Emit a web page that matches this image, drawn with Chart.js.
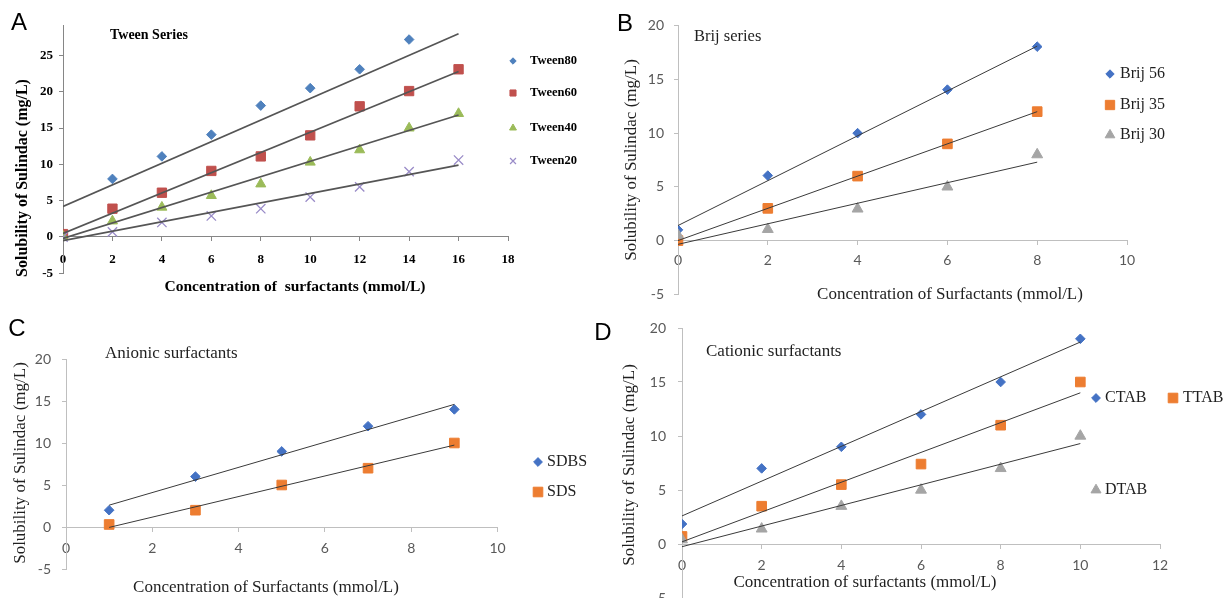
<!DOCTYPE html>
<html><head><meta charset="utf-8">
<script src="https://cdn.jsdelivr.net/npm/chart.js@4.4.1/dist/chart.umd.min.js"></script>
<style>
html,body{margin:0;padding:0;background:#fff;overflow:hidden;width:1228px;height:598px}
canvas{position:absolute}
</style></head>
<body>
<canvas id="cA" width="600" height="305" style="left:0;top:0;width:600px;height:305px"></canvas>
<canvas id="cB" width="628" height="305" style="left:600px;top:0;width:628px;height:305px"></canvas>
<canvas id="cC" width="600" height="293" style="left:0;top:305px;width:600px;height:293px"></canvas>
<canvas id="cD" width="648" height="310" style="left:580px;top:305px;width:648px;height:310px"></canvas>
<script>
// ---------- DATA ----------
// Panel A: Tween series
const tweenConc = [0, 2, 4, 6, 8, 10, 12, 14, 16];
const tween80 = [null, 8, 11.1, 14.1, 18.1, 20.5, 23.1, 27.2, null];
const tween60 = [0.4, 3.9, 6.1, 9.1, 11.1, 14, 18, 20.1, 23.1];
const tween40 = [0.1, 2.2, 4.1, 5.7, 7.3, 10.3, 12, 15, 17];
const tween20 = [0, 0.7, 2, 2.9, 3.9, 5.5, 6.9, 9, 10.6];
const tweenFitX = [0, 16];
const tween80Fit = [4.2, 28];
const tween60Fit = [0.5, 22.8];
const tween40Fit = [-0.2, 16.8];
const tween20Fit = [-0.5, 9.9];
const tweenXTicks = [0, 2, 4, 6, 8, 10, 12, 14, 16, 18];
const tweenYTicks = [-5, 0, 5, 10, 15, 20, 25];

// Panel B: Brij series
const brijConc = [0, 2, 4, 6, 8];
const brij56 = [1.0, 6.05, 10, 14.05, 18.05];
const brij35 = [0, 3, 6, 9, 12];
const brij30 = [0.5, 1.05, 2.95, 5, 8];
const brijFitX = [0, 8];
const brij56Fit = [1.4, 18.1];
const brij35Fit = [0, 12];
const brij30Fit = [-0.35, 7.3];
const brijXTicks = [0, 2, 4, 6, 8, 10];
const brijYTicks = [-5, 0, 5, 10, 15, 20];

// Panel C: Anionic surfactants
const anionicConc = [1, 3, 5, 7, 9];
const sdbs = [2, 6, 9, 12, 14];
const sds = [0.3, 2, 5, 7, 10];
const anionicFitX = [1, 9];
const sdbsFit = [2.6, 14.6];
const sdsFit = [-0.05, 9.75];
const anionicXTicks = [0, 2, 4, 6, 8, 10];
const anionicYTicks = [-5, 0, 5, 10, 15, 20];

// Panel D: Cationic surfactants
const cationicConc = [0, 2, 4, 6, 8, 10];
const ctab = [1.85, 7, 9, 12, 15, 19];
const ttab = [0.7, 3.5, 5.5, 7.4, 11, 15];
const dtab = [0.4, 1.4, 3.5, 5, 7, 10];
const cationicFitX = [0, 10];
const ctabFit = [2.6, 18.7];
const ttabFit = [0.2, 14.0];
const dtabFit = [-0.25, 9.3];
const cationicXTicks = [0, 2, 4, 6, 8, 10, 12];
const cationicYTicks = [-5, 0, 5, 10, 15, 20];

// ---------- HELPERS ----------
function pts(xs, ys) {
  return xs.map((x, i) => ({x: x, y: ys[i]})).filter(p => p.y !== null && p.y !== undefined);
}
function series(label, xs, ys, st) {
  return {label, data: pts(xs, ys), showLine: false, pointStyle: st.style, pointRadius: st.r,
    pointHoverRadius: st.r, backgroundColor: st.color, borderColor: st.border || st.color,
    borderWidth: st.bw || 1, order: st.order};
}
function fitLine(label, xs, ys, color, width) {
  return {label, data: pts(xs, ys), showLine: true, pointRadius: 0, pointHoverRadius: 0,
    borderColor: color, borderWidth: width, fill: false, order: 0};
}
function noPad(s) { s.paddingTop = 0; s.paddingBottom = 0; s.paddingLeft = 0; s.paddingRight = 0; }
function xScale(min, max, tickArr, font, color, axisColor, pad) {
  return {type: 'linear', position: {y: 0}, min, max, bounds: 'data',
    afterBuildTicks: s => { s.ticks = tickArr.map(v => ({value: v})); },
    afterFit: s => { noPad(s); },
    grid: {display: true, drawOnChartArea: false, drawTicks: true, tickLength: 4, color: axisColor, lineWidth: 1},
    border: {display: true, color: axisColor, width: 1},
    ticks: {font, color, padding: pad, maxRotation: 0, autoSkip: false}};
}
function yScale(min, max, tickArr, font, color, axisColor, pad, boxWidth) {
  return {type: 'linear', position: 'left', min, max, bounds: 'data',
    afterBuildTicks: s => { s.ticks = tickArr.map(v => ({value: v})); },
    afterFit: s => { s.width = boxWidth; noPad(s); },
    grid: {display: true, drawOnChartArea: false, drawTicks: true, tickLength: 4, color: axisColor, lineWidth: 1},
    border: {display: true, color: axisColor, width: 1},
    ticks: {font, color, padding: pad, autoSkip: false}};
}
function overlay(origin, texts, legend) {
  return {
    id: 'overlay',
    afterDraw(chart) {
      const ctx = chart.ctx, ox = origin[0], oy = origin[1];
      texts.forEach(t => {
        ctx.save();
        ctx.font = t.font; ctx.fillStyle = t.color || '#000';
        ctx.textAlign = t.align || 'left'; ctx.textBaseline = 'middle';
        ctx.translate(t.x - ox, t.y - oy);
        if (t.rot) ctx.rotate(t.rot);
        ctx.fillText(t.text, 0, 0);
        ctx.restore();
      });
      legend.forEach(l => {
        ctx.save();
        ctx.fillStyle = l.color; ctx.strokeStyle = l.border || l.color; ctx.lineWidth = l.bw || 1;
        Chart.helpers.drawPoint(ctx, {pointStyle: l.style, radius: l.r, rotation: 0, borderWidth: l.bw || 1}, l.x - ox, l.y - oy);
        ctx.font = l.font; ctx.fillStyle = l.tcolor || '#000';
        ctx.textAlign = 'left'; ctx.textBaseline = 'middle';
        ctx.fillText(l.text, l.tx - ox, l.y - oy);
        ctx.restore();
      });
    }
  };
}
function makeChart(id, datasets, scales, padding, plugin) {
  return new Chart(document.getElementById(id), {
    type: 'scatter',
    data: {datasets},
    options: {
      responsive: false, animation: false, devicePixelRatio: 1,
      layout: {padding},
      plugins: {legend: {display: false}, tooltip: {enabled: false}},
      scales
    },
    plugins: [plugin]
  });
}

// ---------- PANEL A ----------
const serifB = "'Liberation Serif', 'Times New Roman', serif";
const fontA = {family: serifB, size: 13, weight: 'bold'};
const axisA = '#868686';
const cBlue7 = '#4F81BD', cRed7 = '#C0504D', cGreen7 = '#9BBB59', cPurple7 = '#9a8cc8';
const trendA = '#555555';
makeChart('cA', [
  fitLine('Tween80 fit', tweenFitX, tween80Fit, trendA, 1.7),
  fitLine('Tween60 fit', tweenFitX, tween60Fit, trendA, 1.7),
  fitLine('Tween40 fit', tweenFitX, tween40Fit, trendA, 1.7),
  fitLine('Tween20 fit', tweenFitX, tween20Fit, trendA, 1.7),
  series('Tween80', tweenConc, tween80, {style: 'rectRot', r: 4.8, color: cBlue7, order: 4}),
  series('Tween60', tweenConc, tween60, {style: 'rect', r: 6.6, color: cRed7, order: 3}),
  series('Tween40', tweenConc, tween40, {style: 'triangle', r: 5.8, color: cGreen7, order: 2}),
  series('Tween20', tweenConc, tween20, {style: 'crossRot', r: 6.6, color: cPurple7, bw: 1.3, order: 1})
], {
  x: xScale(0, 18, tweenXTicks, fontA, '#000', axisA, 11),
  y: yScale(-5, 29.2, tweenYTicks, fontA, '#000', axisA, 6, 63)
}, {left: 0, right: 92, top: 25, bottom: 31.7},
overlay([0, 0], [
  {text: 'A', x: 19, y: 23, font: "24px 'Liberation Sans', Arial, sans-serif", align: 'center'},
  {text: 'Tween Series', x: 110, y: 35, font: "bold 14px " + serifB},
  {text: 'Solubility of Sulindac (mg/L)', x: 23, y: 178, rot: -Math.PI / 2, align: 'center', font: "bold 16px " + serifB},
  {text: 'Concentration of  surfactants (mmol/L)', x: 295, y: 287, align: 'center', font: "bold 15.5px " + serifB}
], [
  {style: 'rectRot', r: 3.2, color: cBlue7, x: 513, y: 61, text: 'Tween80', tx: 530, font: "bold 12.5px " + serifB},
  {style: 'rect', r: 4.3, color: cRed7, x: 513, y: 93, text: 'Tween60', tx: 530, font: "bold 12.5px " + serifB},
  {style: 'triangle', r: 4, color: cGreen7, x: 513, y: 128, text: 'Tween40', tx: 530, font: "bold 12.5px " + serifB},
  {style: 'crossRot', r: 4.2, color: cPurple7, bw: 1.2, x: 513, y: 161, text: 'Tween20', tx: 530, font: "bold 12.5px " + serifB}
]));

// ---------- COMMON for B, C, D ----------
const serif = "'Liberation Serif', 'Times New Roman', serif";
const tickFont = {family: "Lato, 'Open Sans', sans-serif", size: 14};
const tickColor = '#595959';
const axisL = '#bfbfbf';
const cBlue = '#4472C4', cOrange = '#ED7D31', cGray = '#A5A5A5';
const trend = '#3a3a3a';
const txtColor = '#1f1f1f';
const letterFont = "24px 'Liberation Sans', Arial, sans-serif";

// ---------- PANEL B ----------
makeChart('cB', [
  fitLine('Brij 56 fit', brijFitX, brij56Fit, trend, 1),
  fitLine('Brij 35 fit', brijFitX, brij35Fit, trend, 1),
  fitLine('Brij 30 fit', brijFitX, brij30Fit, trend, 1),
  series('Brij 56', brijConc, brij56, {style: 'rectRot', r: 4.8, color: cBlue, order: 3}),
  series('Brij 35', brijConc, brij35, {style: 'rect', r: 6.8, color: cOrange, order: 2}),
  series('Brij 30', brijConc, brij30, {style: 'triangle', r: 6.3, color: cGray, order: 1})
], {
  x: xScale(0, 10, brijXTicks, tickFont, tickColor, axisL, 7.6),
  y: yScale(-5, 20, brijYTicks, tickFont, tickColor, axisL, 10, 78)
}, {left: 0, right: 101, top: 25.7, bottom: 10.7},
overlay([600, 0], [
  {text: 'B', x: 625, y: 24, font: letterFont, align: 'center'},
  {text: 'Brij series', x: 694, y: 37, font: "16.5px " + serif, color: txtColor},
  {text: 'Solubility of Sulindac (mg/L)', x: 632, y: 160, rot: -Math.PI / 2, align: 'center', font: "17px " + serif, color: txtColor},
  {text: 'Concentration of Surfactants (mmol/L)', x: 950, y: 295, align: 'center', font: "17px " + serif, color: txtColor}
], [
  {style: 'rectRot', r: 4.2, color: cBlue, x: 1110, y: 74, text: 'Brij 56', tx: 1120, font: "16px " + serif, tcolor: txtColor},
  {style: 'rect', r: 6.6, color: cOrange, x: 1110, y: 105, text: 'Brij 35', tx: 1120, font: "16px " + serif, tcolor: txtColor},
  {style: 'triangle', r: 5.6, color: cGray, x: 1110, y: 135, text: 'Brij 30', tx: 1120, font: "16px " + serif, tcolor: txtColor}
]));

// ---------- PANEL C ----------
makeChart('cC', [
  fitLine('SDBS fit', anionicFitX, sdbsFit, trend, 1),
  fitLine('SDS fit', anionicFitX, sdsFit, trend, 1),
  series('SDBS', anionicConc, sdbs, {style: 'rectRot', r: 4.8, color: cBlue, order: 2}),
  series('SDS', anionicConc, sds, {style: 'rect', r: 6.8, color: cOrange, order: 1})
], {
  x: xScale(0, 10, anionicXTicks, tickFont, tickColor, axisL, 8.6),
  y: yScale(-5, 20, anionicYTicks, tickFont, tickColor, axisL, 11, 66)
}, {left: 0, right: 102.5, top: 54, bottom: 29},
overlay([0, 305], [
  {text: 'C', x: 17, y: 329, font: letterFont, align: 'center'},
  {text: 'Anionic surfactants', x: 105, y: 354, font: "17px " + serif, color: txtColor},
  {text: 'Solubility of Sulindac (mg/L)', x: 21, y: 463, rot: -Math.PI / 2, align: 'center', font: "17px " + serif, color: txtColor},
  {text: 'Concentration of Surfactants (mmol/L)', x: 266, y: 588, align: 'center', font: "17px " + serif, color: txtColor}
], [
  {style: 'rectRot', r: 4.4, color: cBlue, x: 538, y: 462, text: 'SDBS', tx: 547, font: "16px " + serif, tcolor: txtColor},
  {style: 'rect', r: 6.8, color: cOrange, x: 538, y: 492, text: 'SDS', tx: 547, font: "16px " + serif, tcolor: txtColor}
]));

// ---------- PANEL D ----------
makeChart('cD', [
  fitLine('CTAB fit', cationicFitX, ctabFit, trend, 1),
  fitLine('TTAB fit', cationicFitX, ttabFit, trend, 1),
  fitLine('DTAB fit', cationicFitX, dtabFit, trend, 1),
  series('CTAB', cationicConc, ctab, {style: 'rectRot', r: 4.8, color: cBlue, order: 3}),
  series('TTAB', cationicConc, ttab, {style: 'rect', r: 6.8, color: cOrange, order: 2}),
  series('DTAB', cationicConc, dtab, {style: 'triangle', r: 6.3, color: cGray, order: 1})
], {
  x: xScale(0, 12, cationicXTicks, tickFont, tickColor, axisL, 8.6),
  y: yScale(-5, 20, cationicYTicks, tickFont, tickColor, axisL, 12, 102)
}, {left: 0, right: 68, top: 23, bottom: 17},
overlay([580, 305], [
  {text: 'D', x: 603, y: 333, font: letterFont, align: 'center'},
  {text: 'Cationic surfactants', x: 706, y: 352, font: "17px " + serif, color: txtColor},
  {text: 'Solubility of Sulindac (mg/L)', x: 630, y: 465, rot: -Math.PI / 2, align: 'center', font: "17px " + serif, color: txtColor},
  {text: 'Concentration of surfactants (mmol/L)', x: 865, y: 583, align: 'center', font: "17px " + serif, color: txtColor}
], [
  {style: 'rectRot', r: 4.4, color: cBlue, x: 1096, y: 398, text: 'CTAB', tx: 1105, font: "16px " + serif, tcolor: txtColor},
  {style: 'rect', r: 6.8, color: cOrange, x: 1173, y: 398, text: 'TTAB', tx: 1183, font: "16px " + serif, tcolor: txtColor},
  {style: 'triangle', r: 5.8, color: cGray, x: 1096, y: 490, text: 'DTAB', tx: 1105, font: "16px " + serif, tcolor: txtColor}
]));
</script>
</body></html>
